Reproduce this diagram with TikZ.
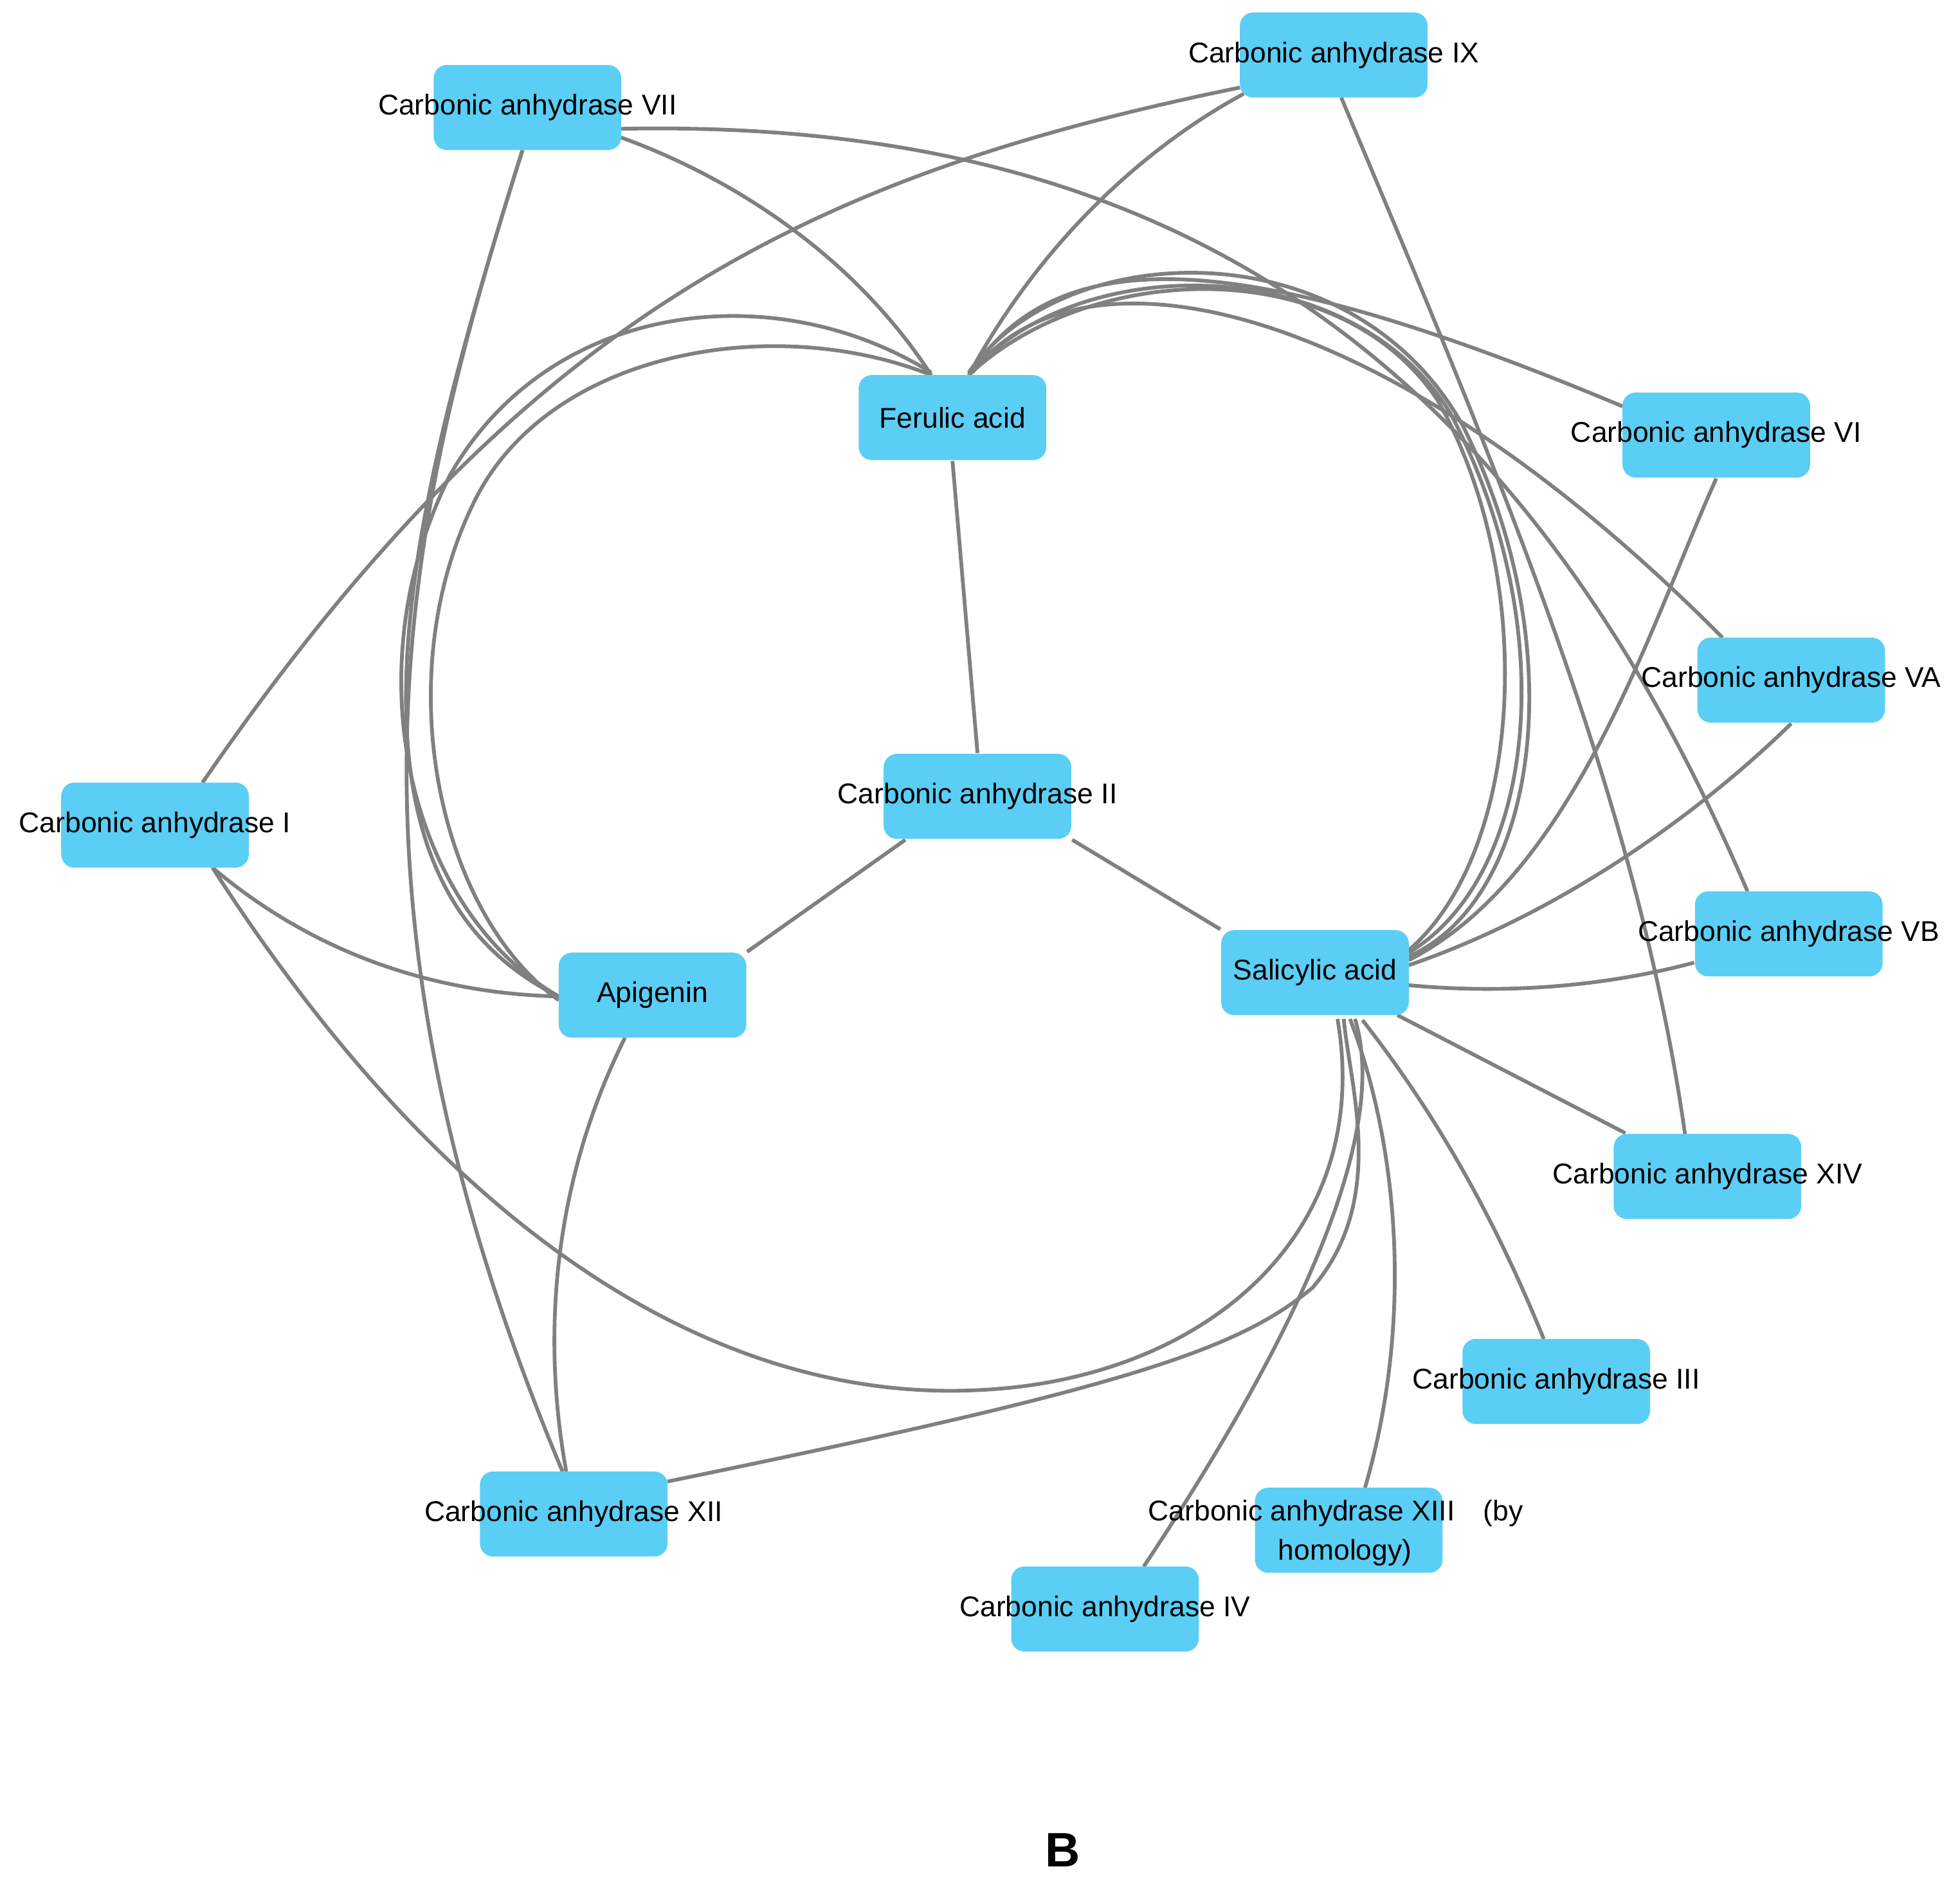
\documentclass[tikz,border=0pt]{standalone}
\usepackage{fontspec}
\setmainfont{Liberation Sans}
\usetikzlibrary{backgrounds}
\definecolor{boxc}{HTML}{5BCEF5}
\definecolor{edgec}{HTML}{808080}
\begin{document}
\begin{tikzpicture}[x=0.01cm,y=-0.01cm,
 box/.style={fill=boxc,draw=none,rounded corners=3pt,minimum width=1.5cm,minimum height=0.68cm,inner sep=0pt},
 txt/.style={font=\fontsize{6.5}{8}\selectfont,inner sep=0pt,align=center},
 e/.style={draw=edgec,line width=0.85pt}]
\useasboundingbox (0,0) rectangle (1568,1502);
\node[box] (ix) at (1067,44) {};
\node[box] (vii) at (422,86) {};
\node[box] (fa) at (762,334) {};
\node[box] (vi) at (1373,348) {};
\node[box] (va) at (1433,544) {};
\node[box] (i) at (124,660) {};
\node[box] (ii) at (782,637) {};
\node[box] (ap) at (522,796) {};
\node[box] (sa) at (1052,778) {};
\node[box] (vb) at (1431,747) {};
\node[box] (xiv) at (1366,941) {};
\node[box] (iii) at (1245,1105) {};
\node[box] (xii) at (459,1211) {};
\node[box] (xiii) at (1079,1224) {};
\node[box] (iv) at (884,1287) {};
\node[txt] at (ix) {Carbonic anhydrase IX};
\node[txt] at (vii) {Carbonic anhydrase VII};
\node[txt] at (fa) {Ferulic acid};
\node[txt] at (vi) {Carbonic anhydrase VI};
\node[txt] at (va) {Carbonic anhydrase VA};
\node[txt] at (i) {Carbonic anhydrase I};
\node[txt] at (ii) {Carbonic anhydrase II};
\node[txt] at (ap) {Apigenin};
\node[txt] at (sa) {Salicylic acid};
\node[txt] at (vb) {Carbonic anhydrase VB};
\node[txt] at (xiv) {Carbonic anhydrase XIV};
\node[txt] at (iii) {Carbonic anhydrase III};
\node[txt] at (xii) {Carbonic anhydrase XII};
\node[txt,align=left,anchor=north west] at (918,1199) {Carbonic anhydrase XIII\quad(by\\\hspace{9.5em}};
\node[txt] (hom) at (1076,1242) {homology)};
\node[txt] at (iv) {Carbonic anhydrase IV};
\node[font=\bfseries\fontsize{11}{13}\selectfont] (lb) at (850,1480) {B};
\begin{scope}[on background layer]
\draw[e] (fa.south) -- (ii.north);
\draw[e] (ii.south west) ++(18,0) coordinate (c1) (c1) -- (ap.north east) ++(0,0);
\draw[e] (ii.south east) -- (sa.north west);
\draw[e] (745,300) .. controls (680,200) and (580,140) .. (497,110);
\draw[e] (775,300) .. controls (840,180) and (930,110) .. (995,75);
\draw[e] (992,70) .. controls (650,140) and (420,250) .. (162,626);
\draw[e] (1073,78) .. controls (1200,380) and (1310,640) .. (1348,907);
\draw[e] (497,103) .. controls (900,95) and (1200,250) .. (1398,713);
\draw[e] (418,120) .. controls (330,400) and (250,700) .. (450,1177);
\draw[e] (418,120) .. controls (330,400) and (250,700) .. (447,797);
\draw[e] (745,298) .. controls (620,220) and (440,240) .. (360,380) .. controls (280,540) and (330,730) .. (447,797);
\draw[e] (745,300) .. controls (620,250) and (440,280) .. (380,400) .. controls (310,540) and (350,730) .. (447,800);
\draw[e] (775,298) .. controls (850,190) and (1080,180) .. (1170,340) .. controls (1260,520) and (1230,720) .. (1127,765);
\draw[e] (775,300) .. controls (860,200) and (1080,200) .. (1160,330) .. controls (1250,500) and (1230,700) .. (1127,762);
\draw[e] (775,300) .. controls (870,210) and (1070,200) .. (1150,320) .. controls (1230,460) and (1220,680) .. (1127,760);
\draw[e] (778,296) .. controls (850,190) and (1000,200) .. (1298,325);
\draw[e] (778,298) .. controls (860,190) and (1100,230) .. (1378,510);
\draw[e] (vi.south) .. controls (1320,500) and (1260,700) .. (1127,768);
\draw[e] (va.south) .. controls (1360,650) and (1250,730) .. (1127,772);
\draw[e] (vb.west) ++(0,23) coordinate (c2) (c2) .. controls (1280,790) and (1200,795) .. (1127,788);
\draw[e] (xiv.north west) ++(10,0) coordinate (c3) (c3) -- (1118,812);
\draw[e] (1235,1071) .. controls (1190,960) and (1140,880) .. (1090,816);
\draw[e] (1092,1190) .. controls (1130,1060) and (1120,920) .. (1080,815);
\draw[e] (915,1253) .. controls (1050,1050) and (1110,900) .. (1084,815);
\draw[e] (534,1185) .. controls (900,1110) and (990,1080) .. (1050,1030) .. controls (1110,960) and (1080,870) .. (1075,815);
\draw[e] (170,694) .. controls (380,1020) and (600,1120) .. (780,1112) .. controls (960,1105) and (1100,990) .. (1070,815);
\draw[e] (170,694) .. controls (260,770) and (360,795) .. (447,797);
\draw[e] (500,830) .. controls (450,930) and (430,1050) .. (453,1177);
\end{scope}
\end{tikzpicture}
\end{document}
